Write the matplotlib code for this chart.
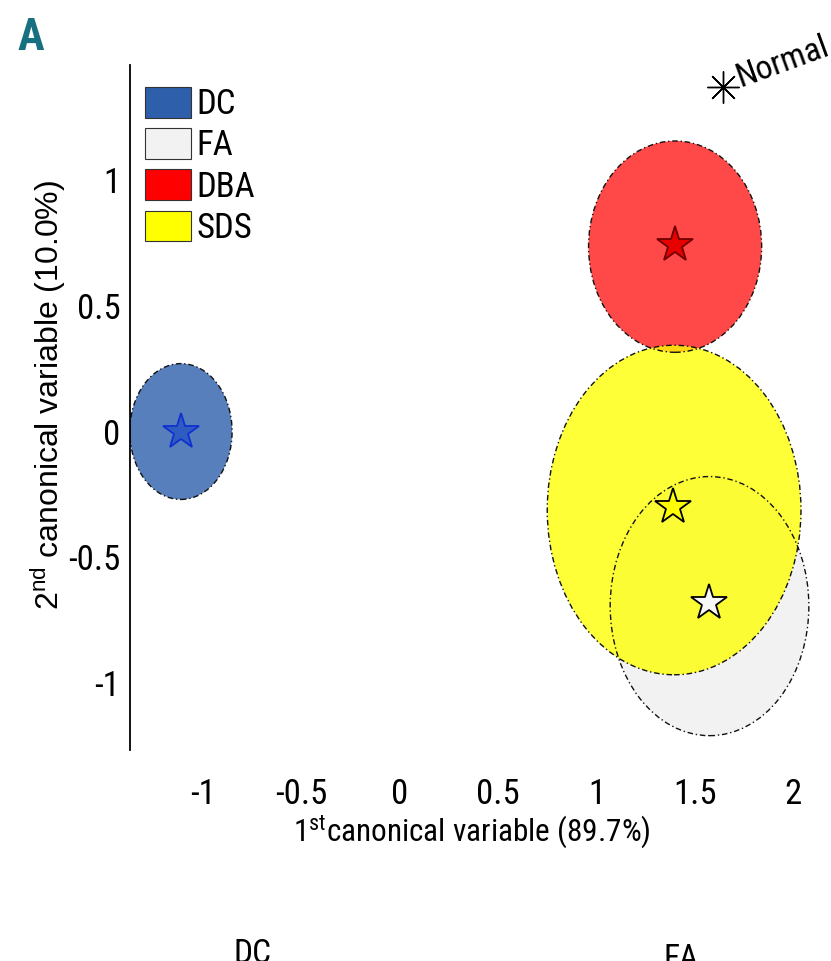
import matplotlib
matplotlib.use("Agg")
import matplotlib.pyplot as plt
from matplotlib.patches import Ellipse, Patch
from matplotlib import font_manager

# groups: name, centre (1st, 2nd canonical variable), ellipse size
groups = ["DC", "FA", "DBA", "SDS"]
cx = [-1.112, 1.575, 1.400, 1.395]
cy = [0.000, -0.694, 0.735, -0.312]
widths = [0.52, 1.01, 0.88, 1.29]
heights = [0.54, 1.03, 0.84, 1.31]
star_x = [-1.112, 1.573, 1.400, 1.390]
star_y = [0.000, -0.680, 0.742, -0.300]
normal_x, normal_y = 1.644, 1.37

legend_colors = ["#2d5faa", "#f2f2f2", "#ff0000", "#ffff00"]
face_colors = ["#2d5faa", "#f2f2f2", "#ff1a1a", "#ffff00"]
face_alpha = [0.8, 1.0, 0.8, 0.78]
star_faces = ["#2f5cc0", "#f7f7f7", "#e60000", "#ffff00"]
star_edges = ["#1030d0", "#000000", "#700000", "#000000"]
draw_order = [1, 2, 3, 0]

xticks = [-1, -0.5, 0, 0.5, 1, 1.5, 2]
xticklabels = ["-1", "-0.5", "0", "0.5", "1", "1.5", "2"]
yticks = [-1, -0.5, 0, 0.5, 1]
yticklabels = ["-1", "-0.5", "0", "0.5", "1"]


# look for a narrow sans face, the original labels are condensed Arial
def find_narrow(bold=False):
    best = None
    for f in font_manager.fontManager.ttflist:
        key = (f.name + " " + str(f.stretch)).lower()
        if not any(w in key for w in ("narrow", "condensed")):
            continue
        if "extra" in key or "ultra" in key or f.style != 'normal':
            continue
        is_bold = f.weight in ('bold', 700) or (isinstance(f.weight, int) and f.weight >= 600)
        if is_bold != bold:
            continue
        rank = 0 if "liberation" in key else 1 if "roboto" in key else 2 if "noto" in key else 3
        if best is None or rank < best[0]:
            best = (rank, f.fname)
    return best[1] if best else None


narrow_file = find_narrow()
narrow_bold_file = find_narrow(bold=True)
plt.rcParams['font.family'] = ['Liberation Sans', 'DejaVu Sans']


def fp(size, bold=False):
    fname = narrow_bold_file if bold else narrow_file
    if fname:
        return font_manager.FontProperties(fname=fname, size=size)
    return font_manager.FontProperties(family=['Liberation Sans', 'DejaVu Sans'],
                                       size=size * 0.88,
                                       weight='bold' if bold else 'normal')


W, H = 831, 961
fig = plt.figure(figsize=(W / 100, H / 100), dpi=100)
ax = fig.add_axes([130 / W, 1 - 750 / H, (812.8 - 130) / W, 685 / H])
ax.set_xlim(-1.371, 2.1)
ax.set_ylim(-1.266, 1.457)

# filled faces first, then the dash-dot outlines on top
for i in draw_order:
    ax.add_patch(Ellipse((cx[i], cy[i]), widths[i], heights[i],
                         facecolor=face_colors[i], alpha=face_alpha[i],
                         edgecolor='none', zorder=1))
for i in draw_order:
    ax.add_patch(Ellipse((cx[i], cy[i]), widths[i], heights[i],
                         facecolor='none', edgecolor='#111111', lw=1.0,
                         linestyle=(0, (4, 2, 1, 2)), zorder=2))

for i in range(len(groups)):
    ax.plot(star_x[i], star_y[i], marker='*', markersize=27,
            markerfacecolor=star_faces[i], markeredgecolor=star_edges[i],
            markeredgewidth=1.3, linestyle='none', zorder=3)

ax.plot(normal_x, normal_y, marker=(8, 2, 0), markersize=23,
        markeredgecolor='black', markeredgewidth=1.0, linestyle='none',
        zorder=3, clip_on=False)
ax.text(normal_x + 0.086, normal_y, "Normal", fontproperties=fp(24),
        rotation=20, rotation_mode='anchor', ha='left', va='baseline',
        clip_on=False)

ax.set_xticks(xticks)
ax.set_xticklabels(xticklabels, fontproperties=fp(25))
ax.set_yticks(yticks)
ax.set_yticklabels(yticklabels, fontproperties=fp(25))
ax.tick_params(axis='y', length=0, pad=7)
ax.tick_params(axis='x', length=0, pad=20)

for side in ['top', 'right', 'bottom']:
    ax.spines[side].set_visible(False)
ax.spines['left'].set_linewidth(1.3)

ax.set_xlabel("1$^{\\mathregular{st}}$canonical variable (89.7%)",
              fontproperties=fp(22.5), labelpad=2)
ax.set_ylabel("2$^{\\mathregular{nd}}$ canonical variable (10.0%)", fontsize=23,
              family=['Liberation Sans', 'DejaVu Sans'])
ax.yaxis.set_label_coords((68 - 130) / (812.8 - 130), (750 - 395) / 685)

handles = [Patch(facecolor=legend_colors[i], edgecolor='#333333', lw=0.8)
           for i in range(len(groups))]
ax.legend(handles, groups, loc='upper left', bbox_to_anchor=(145 / W, 1 - 87 / H),
          bbox_transform=fig.transFigure, frameon=False, prop=fp(25),
          handlelength=1.33, handleheight=0.98, labelspacing=0.2,
          handletextpad=0.15, borderpad=0, borderaxespad=0)

fig.text(18 / W, 1 - 50 / H, "A", fontproperties=fp(32, bold=True),
         color='#17707f', ha='left', va='baseline')

# panel titles of the next row, cut off by the lower edge
fig.text(253 / W, 1 - 938 / H, "DC", fontproperties=fp(24), ha='center', va='top')
fig.text(681 / W, 1 - 943 / H, "FA", fontproperties=fp(24), ha='center', va='top')

fig.savefig("out.png", dpi=100)
